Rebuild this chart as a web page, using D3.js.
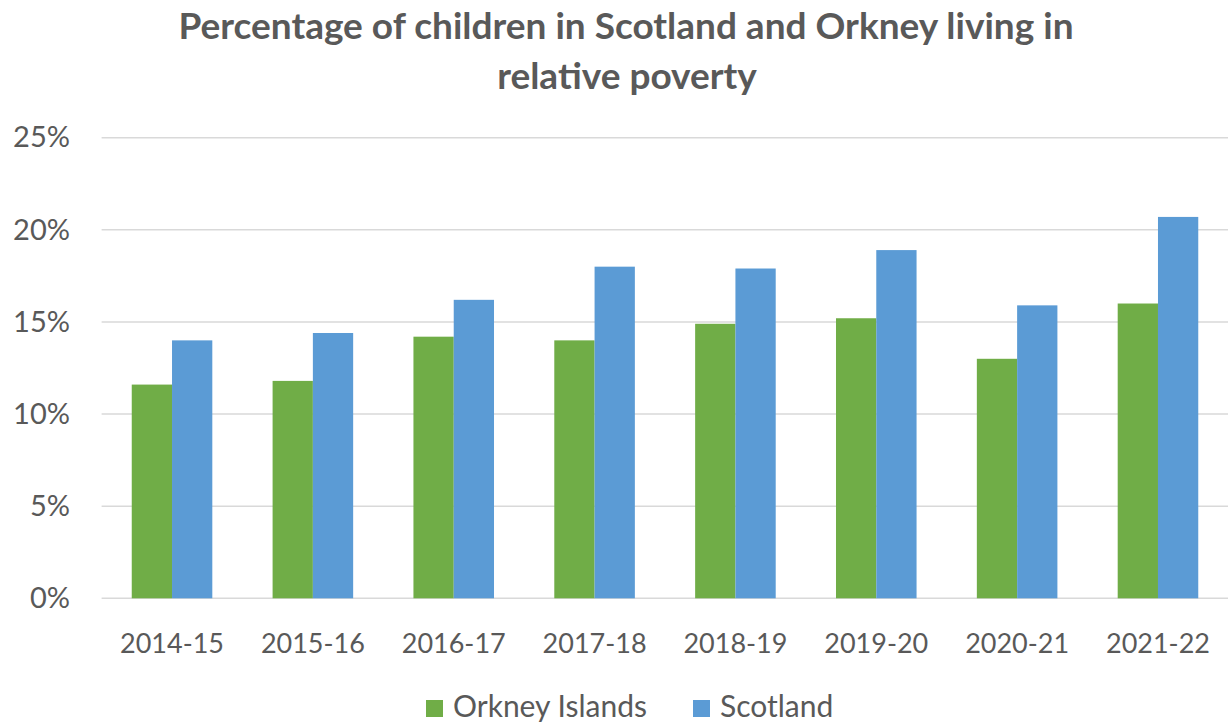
<!DOCTYPE html>
<html>
<head>
<meta charset="utf-8">
<script src="https://cdn.jsdelivr.net/npm/d3@7"></script>
<style>
  body { margin: 0; background: #fff; }
  svg text { font-family: Lato, "Open Sans", sans-serif; fill: #595959; }
</style>
</head>
<body>
<div id="chart"></div>
<script>
// years on the x axis
const years = ["2014-15", "2015-16", "2016-17", "2017-18", "2018-19", "2019-20", "2020-21", "2021-22"];
// series names
const seriesNames = ["Orkney Islands", "Scotland"];
// percentage of children in relative poverty
const orkney = [11.6, 11.8, 14.2, 14.0, 14.9, 15.2, 13.0, 16.0];
const scotland = [14.0, 14.4, 16.2, 18.0, 17.9, 18.9, 15.9, 20.7];
// y ticks
const yTicks = [0, 5, 10, 15, 20, 25];

const width = 1228, height = 725;
const colors = { "Orkney Islands": "#70ad47", "Scotland": "#5b9bd5" };

const svg = d3.select("#chart").append("svg")
  .attr("width", width)
  .attr("height", height);

// scales
const x0 = d3.scaleBand().domain(years).range([101.6, 1228.4])
  .paddingInner(0.428).paddingOuter(0.214);
const x1 = d3.scaleBand().domain(seriesNames).range([0, x0.bandwidth()]);
const y = d3.scaleLinear().domain([0, 25]).range([598.3, 137.7]);

// title
const title = svg.append("text")
  .attr("text-anchor", "middle")
  .attr("font-weight", "bold")
  .attr("font-size", 37);
title.append("tspan").attr("x", 626).attr("y", 39).text("Percentage of children in Scotland and Orkney living in");
title.append("tspan").attr("x", 627).attr("y", 89).text("relative poverty");

// gridlines
svg.append("g")
  .selectAll("line")
  .data(yTicks)
  .join("line")
  .attr("x1", 101.6)
  .attr("x2", width)
  .attr("y1", d => y(d))
  .attr("y2", d => y(d))
  .attr("stroke", "#d9d9d9")
  .attr("stroke-width", 1.5);

// y axis labels
const yAxis = svg.append("g")
  .attr("transform", "translate(70,0)")
  .call(d3.axisLeft(y).tickValues(yTicks).tickFormat(d => d + "%").tickSize(0).tickPadding(0));
yAxis.select(".domain").remove();
yAxis.selectAll("text").attr("font-size", 29).attr("font-family", "Lato, sans-serif").attr("fill", "#595959");

// bars
const rows = years.map((yr, i) => ({ year: yr, values: [
  { name: "Orkney Islands", value: orkney[i] },
  { name: "Scotland", value: scotland[i] }
] }));

svg.append("g")
  .selectAll("g")
  .data(rows)
  .join("g")
  .attr("transform", d => `translate(${x0(d.year)},0)`)
  .selectAll("rect")
  .data(d => d.values)
  .join("rect")
  .attr("x", d => x1(d.name))
  .attr("y", d => y(d.value))
  .attr("width", x1.bandwidth())
  .attr("height", d => y(0) - y(d.value))
  .attr("fill", d => colors[d.name]);

// x axis labels
const xAxis = svg.append("g")
  .attr("transform", "translate(0,598.3)")
  .call(d3.axisBottom(x0).tickSize(0).tickPadding(0));
xAxis.select(".domain").remove();
xAxis.selectAll("text")
  .attr("dy", null)
  .attr("y", 55)
  .attr("font-size", 27)
  .attr("font-family", "Lato, sans-serif")
  .attr("fill", "#595959");

// legend
const legendX = [426, 693];
const legend = svg.append("g")
  .selectAll("g")
  .data(seriesNames)
  .join("g")
  .attr("transform", (d, i) => `translate(${legendX[i]},700)`);
legend.append("rect")
  .attr("width", 17)
  .attr("height", 17)
  .attr("fill", d => colors[d]);
legend.append("text")
  .attr("x", 27)
  .attr("y", 17)
  .attr("font-size", 30)
  .text(d => d);
</script>
</body>
</html>
